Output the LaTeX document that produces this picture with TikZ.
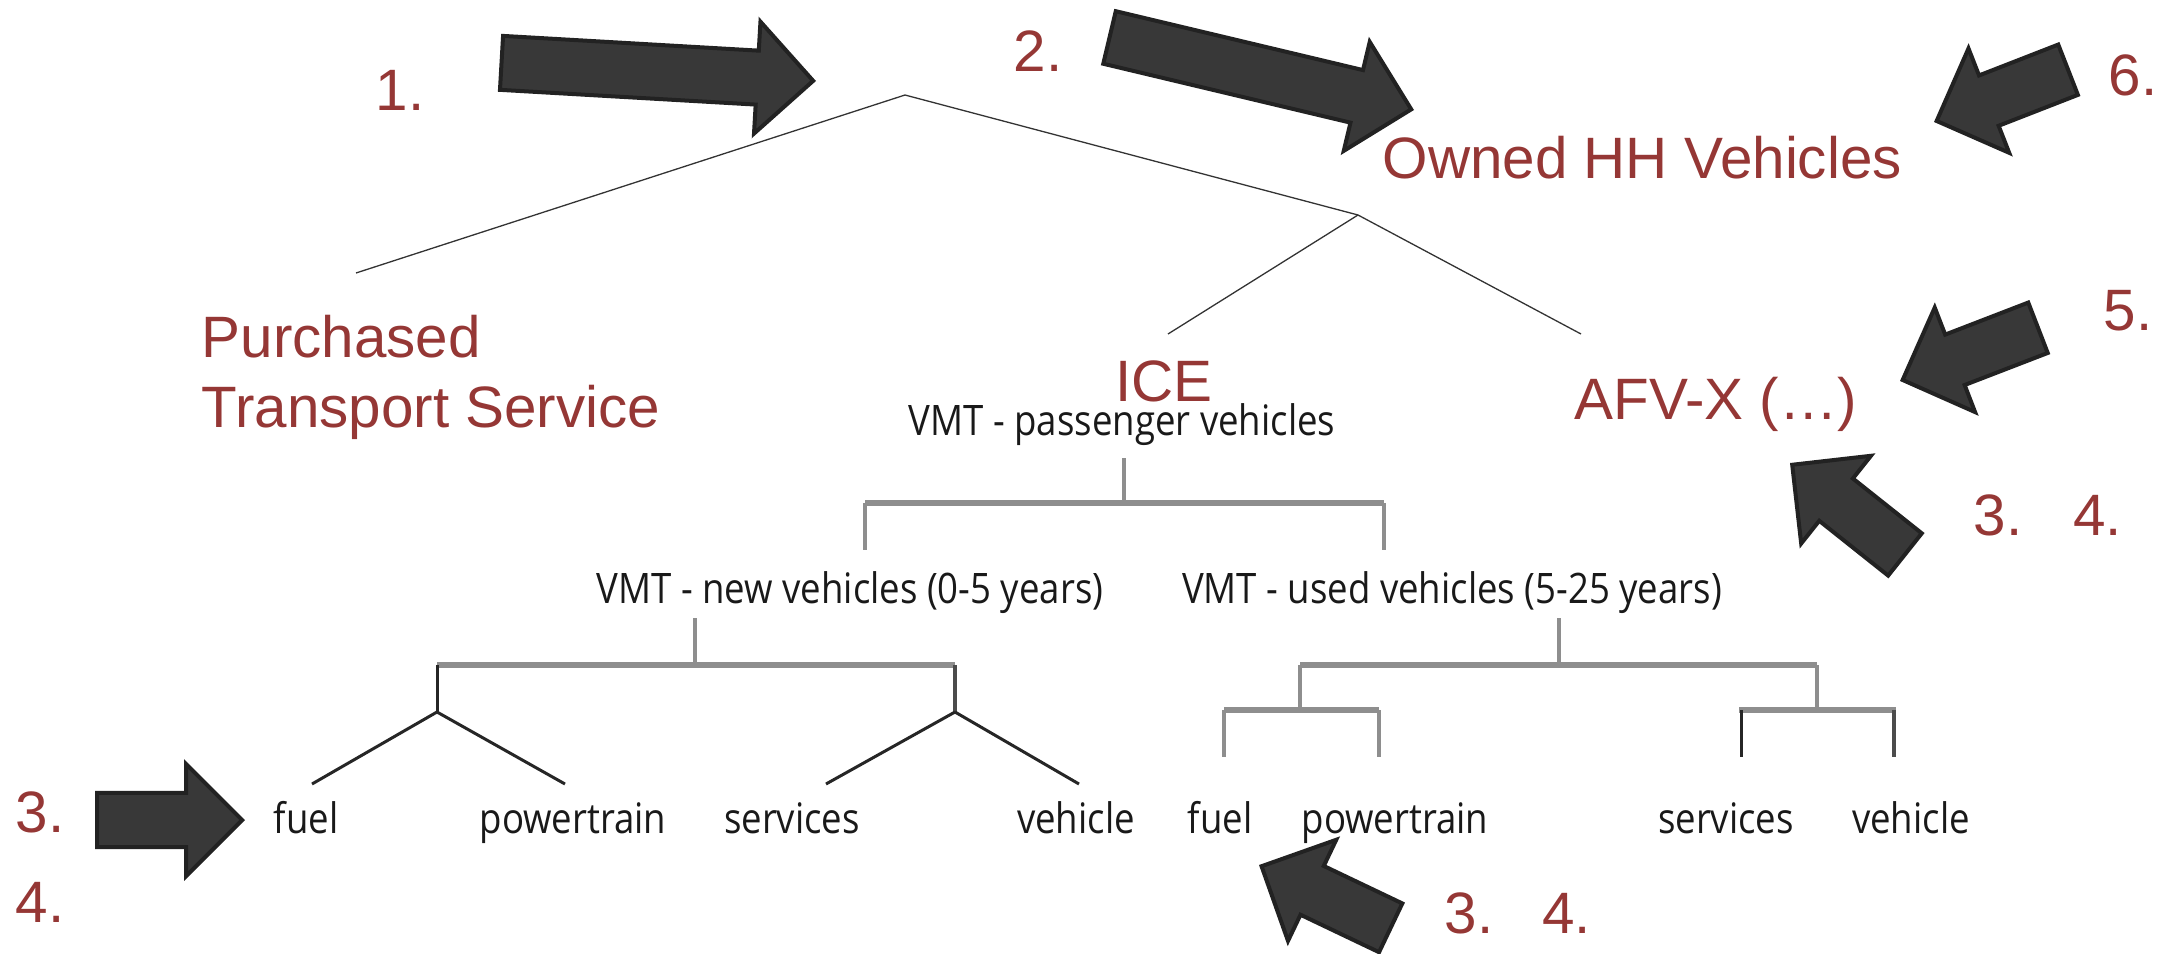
\documentclass[tikz,border=0pt]{standalone}
\usepackage{fontspec}
\setmainfont{Liberation Sans}
\newfontfamily\treefont[FakeStretch=0.87]{Open Sans}
\usetikzlibrary{shapes.arrows}
\definecolor{hhred}{HTML}{953735}
\definecolor{arrowfill}{HTML}{383838}
\definecolor{arrowline}{HTML}{222222}
\definecolor{treegray}{HTML}{8E8E8E}

\begin{document}
\begin{tikzpicture}[
    x=0.01cm, y=-0.01cm,
    redlabel/.style={text=hhred, inner sep=0pt, font=\fontsize{16.6pt}{19.9pt}\selectfont},
    treelabel/.style={text=black!90, inner sep=0pt, font=\treefont\fontsize{11.95pt}{14pt}\selectfont},
    bigarrow/.style={single arrow, draw=arrowline, fill=arrowfill, line width=0.04cm, inner sep=0pt,
        inner ysep=0.25cm, single arrow head extend=0.29cm, anchor=tip},
    branch/.style={draw=black!80, line width=0.013cm},
    bar/.style={draw=treegray, line width=0.06cm},
    stem/.style={draw=treegray, line width=0.04cm},
    darkstem/.style={draw=black!70, line width=0.035cm},
    twig/.style={draw=black!85, line width=0.03cm}
]
\useasboundingbox (0,0) rectangle (2171,954);

% red labels
\node[redlabel, anchor=base] (n1) at (400,110) {1.};
\node[redlabel, anchor=base] (n2) at (1038,71) {2.};
\node[redlabel, anchor=base west] (own) at (1382,178) {Owned HH Vehicles};
\node[redlabel, anchor=base] (n6) at (2133,95) {6.};
\node[redlabel, anchor=base west, align=left] (pts) at (201,427) {Purchased\\Transport Service};
\node[redlabel, anchor=base] (ice) at (1164,401) {ICE};
\node[redlabel, anchor=base] (afv) at (1716,419) {AFV-X (…)};
\node[redlabel, anchor=base] (n5) at (2128,330) {5.};
\node[redlabel, anchor=base west] (n34r) at (1973,535) {3.\hspace{0.51cm}4.};
\node[redlabel, anchor=base] (n3l) at (40,832) {3.};
\node[redlabel, anchor=base] (n4l) at (40,922) {4.};
\node[redlabel, anchor=base west] (n34b) at (1444,933) {3.\hspace{0.49cm}4.};

% block arrows
\node[bigarrow, rotate=-3.3, minimum height=3.12cm] (arr1) at (816,81) {};
\node[bigarrow, rotate=-13.4, minimum height=3.10cm] (arr2) at (1414,110) {};
\node[bigarrow, rotate=201.3, minimum height=1.41cm] (arr6) at (1934,122) {};
\node[bigarrow, rotate=201.1, minimum height=1.45cm] (arr5) at (1900,381) {};
\node[bigarrow, rotate=141.5, minimum height=1.44cm] (arr34r) at (1790,463) {};
\node[bigarrow, rotate=154.5, minimum height=1.43cm] (arr34b) at (1259,865) {};
\node[bigarrow, minimum height=1.45cm] (arr3l) at (245,820) {};

% upper tree
\coordinate (root) at (905,95);
\coordinate (ownJ) at (1358,215);
\coordinate (ptsT) at (356,273);
\coordinate (iceT) at (1168,334);
\coordinate (afvT) at (1581,334);
\draw[branch] (ptsT) -- (root) -- (ownJ);
\draw[branch] (iceT) -- (ownJ) -- (afvT);

% VMT tree labels
\node[treelabel, anchor=base] (pv) at (1122,435) {VMT - passenger vehicles};
\node[treelabel, anchor=base] (nv) at (850,603) {VMT - new vehicles (0-5 years)};
\node[treelabel, anchor=base] (uv) at (1452,603) {VMT - used vehicles (5-25 years)};
\node[treelabel, anchor=base] (nfuel) at (306,833) {fuel};
\node[treelabel, anchor=base] (npow) at (573,833) {powertrain};
\node[treelabel, anchor=base] (nserv) at (792,833) {services};
\node[treelabel, anchor=base] (nveh) at (1076,833) {vehicle};
\node[treelabel, anchor=base] (ufuel) at (1220,833) {fuel};
\node[treelabel, anchor=base] (upow) at (1395,833) {powertrain};
\node[treelabel, anchor=base] (userv) at (1726,833) {services};
\node[treelabel, anchor=base] (uveh) at (1911,833) {vehicle};

% passenger split
\coordinate (pvJ) at (1124,503);
\coordinate (pvL) at (865,503);
\coordinate (pvR) at (1384,503);
\draw[stem] (1124,458) -- (pvJ);
\draw[bar] (pvL) -- (pvR);
\draw[stem] (pvL) -- ++(0,47);
\draw[stem] (pvR) -- ++(0,47);

% new vehicles
\coordinate (nvJ) at (695,665);
\coordinate (nvL) at (437,665);
\coordinate (nvR) at (955,665);
\coordinate (nvLJ) at (437,712);
\coordinate (nvRJ) at (955,712);
\draw[stem] (695,618) -- (nvJ);
\draw[bar] (nvL) -- (nvR);
\draw[twig] (nvL) -- (nvLJ);
\draw[darkstem] (nvR) -- (nvRJ);
\draw[twig] (nvLJ) -- (312,784);
\draw[twig] (nvLJ) -- (565,784);
\draw[twig] (nvRJ) -- (826,784);
\draw[twig] (nvRJ) -- (1079,784);

% used vehicles
\coordinate (uvJ) at (1559,665);
\coordinate (uvL) at (1300,665);
\coordinate (uvR) at (1817,665);
\coordinate (uvLJ) at (1300,710);
\coordinate (uvRJ) at (1817,710);
\draw[stem] (1559,618) -- (uvJ);
\draw[bar] (uvL) -- (uvR);
\draw[stem] (uvL) -- (uvLJ);
\draw[stem] (uvR) -- (uvRJ);
\draw[bar] (1224,710) -- (1379,710);
\draw[bar] (1739,710) -- (1896,710);
\draw[stem] (1224,710) -- (1224,757);
\draw[stem] (1379,710) -- (1379,757);
\draw[twig] (1741,710) -- (1741,757);
\draw[darkstem] (1894,710) -- (1894,757);
\end{tikzpicture}
\end{document}
